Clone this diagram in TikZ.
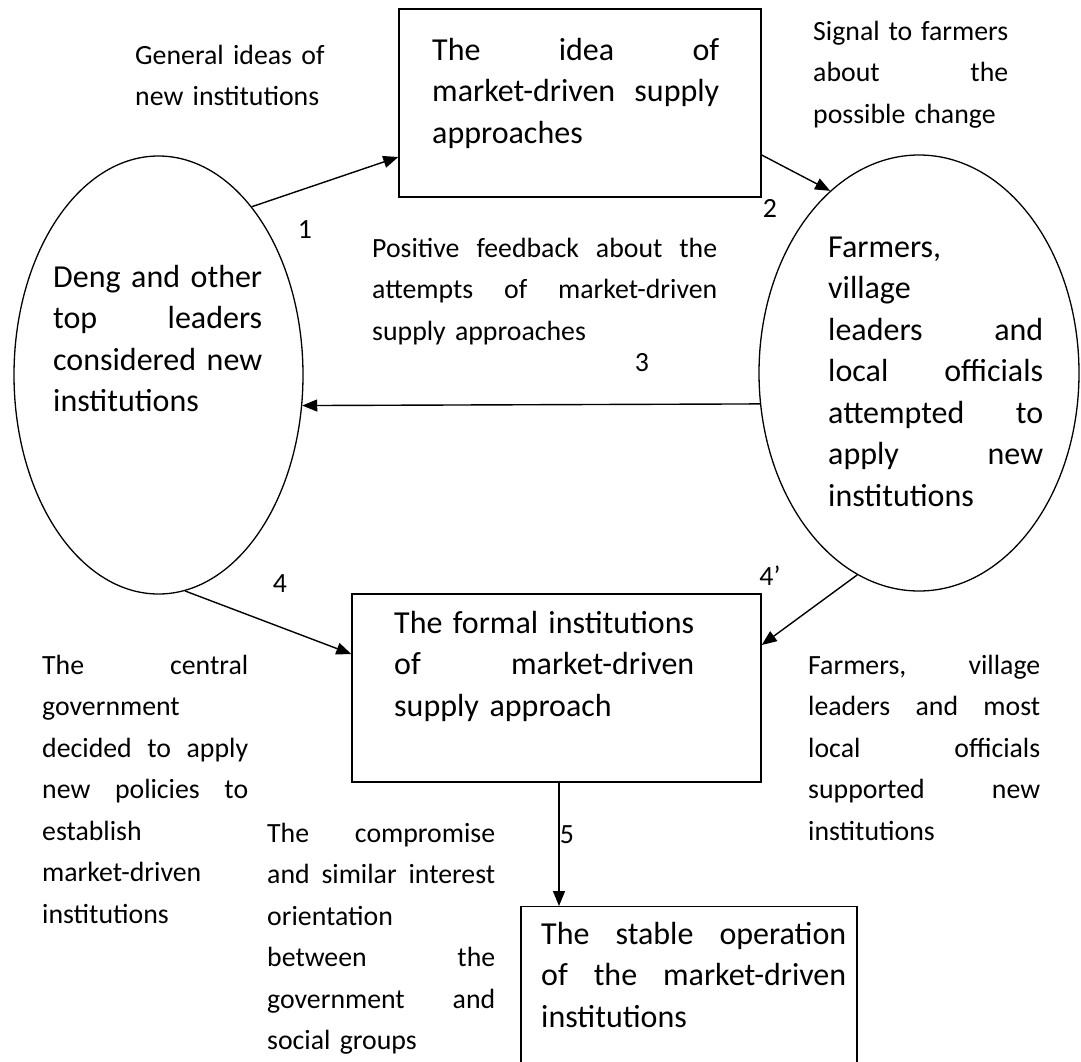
\documentclass[tikz,border=0pt]{standalone}
\usepackage{fontspec}
\setmainfont{Carlito}
\usetikzlibrary{shapes.geometric,arrows.meta}
\newcommand\bigtxt{\fontsize{32pt}{41.5pt}\selectfont}
\newcommand\smalltxt{\fontsize{27.8pt}{41.5pt}\selectfont}
\newcommand\Jline[1]{\hbox to\hsize{\strut #1}\par}
\newcommand\Lline[1]{\hbox to\hsize{\strut #1\hfil}\par}
\begin{document}
\begin{tikzpicture}[x=1pt,y=-1pt,
  arr/.style={-{Triangle[length=15pt,width=12pt]}, line width=1.4pt},
  box/.style={draw, line width=1.4pt, rectangle, inner sep=0pt},
  oval/.style={draw, line width=1.3pt, ellipse, inner sep=0pt},
  blk/.style={anchor=north west, inner sep=0pt, text width=#1},
  lbl/.style={font=\smalltxt, inner sep=0pt}]
\fill[white] (0,0) rectangle (1081,1061);
\useasboundingbox (0,0) rectangle (1081,1061);

% shapes
\node[oval, minimum width=289pt, minimum height=438pt] (L) at (158.5,375) {};
\node[oval, minimum width=320pt, minimum height=436pt] (R) at (919,373) {};
\node[box, minimum width=362pt, minimum height=188pt] (B1) at (580,103) {};
\node[box, minimum width=409pt, minimum height=188pt] (B2) at (556.5,688) {};
\node[box, minimum width=336pt, minimum height=220pt, anchor=north] (B3) at (689,906) {};

% texts
\node[blk=190pt, font=\smalltxt] (tgen) at (135,35) {\Lline{General ideas of}\Lline{new institutions}};
\node[blk=195pt, font=\smalltxt] (tsig) at (813,11) {\Jline{Signal\hfill to\hfill farmers}\Jline{about\hfill the}\Lline{possible change}};
\node[blk=287pt, font=\bigtxt] (tidea) at (432,31) {\Jline{The\hfill idea\hfill of}\Jline{market-driven\hfill supply}\Lline{approaches}};
\node[blk=345pt, font=\smalltxt] (tpos) at (372,228) {\Jline{Positive\hfill feedback\hfill about\hfill the}\Jline{attempts\hfill of\hfill market-driven}\Lline{supply approaches}};
\node[blk=209pt, font=\bigtxt] (tdeng) at (53,258) {\Jline{Deng\hfill and\hfill other}\Jline{top\hfill leaders}\Jline{considered\hfill new}\Lline{institutions}};
\node[blk=215pt, font=\bigtxt] (tfarm) at (828,228) {\Lline{Farmers,}\Lline{village}\Jline{leaders\hfill and}\Jline{local\hfill officials}\Jline{attempted\hfill to}\Jline{apply\hfill new}\Lline{institutions}};
\node[blk=300pt, font=\bigtxt] (tformal) at (394,604) {\Jline{The\hfill formal\hfill institutions}\Jline{of\hfill market-driven}\Lline{supply approach}};
\node[blk=206pt, font=\smalltxt] (tcentral) at (42,645) {\Jline{The\hfill central}\Lline{government}\Jline{decided\hfill to\hfill apply}\Jline{new\hfill policies\hfill to}\Lline{establish}\Lline{market-driven}\Lline{institutions}};
\node[blk=228pt, font=\smalltxt] (tcomp) at (267,813) {\Jline{The\hfill compromise}\Jline{and\hfill similar\hfill interest}\Lline{orientation}\Jline{between\hfill the}\Jline{government\hfill and}\Lline{social groups}};
\node[blk=232pt, font=\smalltxt] (tsupp) at (808,645) {\Jline{Farmers,\hfill village}\Jline{leaders\hfill and\hfill most}\Jline{local\hfill officials}\Jline{supported\hfill new}\Lline{institutions}};
\node[blk=305pt, font=\bigtxt] (tstable) at (541,915) {\Jline{The\hfill stable\hfill operation}\Jline{of\hfill the\hfill market-driven}\Lline{institutions}};

% labels
\node[lbl] (n1) at (305,230) {1};
\node[lbl] (n2) at (770,208) {2};
\node[lbl] (n3) at (642,363) {3};
\node[lbl] (n4) at (280,584) {4};
\node[lbl] (n4p) at (770,576) {4’};
\node[lbl] (n5) at (567,835) {5};

% connectors
\draw[arr] (L.61.65) -- ([yshift=-54pt]B1.west);
\draw[arr] ([yshift=-52pt]B1.east) -- (R.116.3);
\draw[arr] (R.191.8) -- (L.-12.2);
\draw[arr] (L.-83.8) -- ([yshift=34pt]B2.west);
\draw[arr] (R.253.2) -- ([yshift=43pt]B2.east);
\draw[arr] ([xshift=2.5pt]B2.south) -- ([xshift=2.5pt]B2.south |- B3.north);
\end{tikzpicture}
\end{document}
